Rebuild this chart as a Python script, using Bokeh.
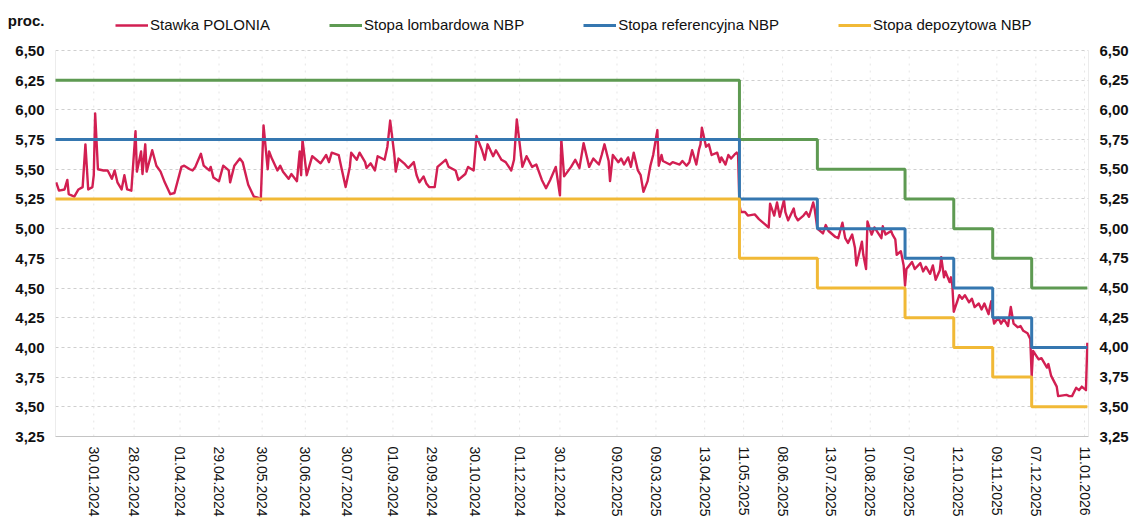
import pandas as pd
from bokeh.plotting import figure
from bokeh.models import (Range1d, FixedTicker, DatetimeTickFormatter, LinearAxis,
                          CustomJSTickFormatter, Legend, LegendItem)
from bokeh.embed import file_html
from bokeh.resources import INLINE

# ---------------- data ----------------
POLONIA_DATES = [
    "2024-01-03", "2024-01-05", "2024-01-09", "2024-01-11", "2024-01-12", "2024-01-16", "2024-01-19",
    "2024-01-22", "2024-01-24", "2024-01-26", "2024-01-29", "2024-01-30", "2024-01-31",
    "2024-02-02", "2024-02-06", "2024-02-09", "2024-02-12", "2024-02-14", "2024-02-16", "2024-02-19",
    "2024-02-21", "2024-02-23", "2024-02-26", "2024-02-29",
    "2024-03-01", "2024-03-04", "2024-03-05", "2024-03-07", "2024-03-08", "2024-03-12", "2024-03-15",
    "2024-03-18", "2024-03-21", "2024-03-25", "2024-03-28",
    "2024-04-02", "2024-04-04", "2024-04-08", "2024-04-10", "2024-04-12", "2024-04-16", "2024-04-18",
    "2024-04-22", "2024-04-23", "2024-04-25", "2024-04-29",
    "2024-05-02", "2024-05-06", "2024-05-07", "2024-05-10", "2024-05-14", "2024-05-16", "2024-05-20",
    "2024-05-24", "2024-05-27", "2024-05-29", "2024-05-31",
    "2024-06-03", "2024-06-04", "2024-06-06", "2024-06-10", "2024-06-12", "2024-06-14", "2024-06-18",
    "2024-06-20", "2024-06-24", "2024-06-26", "2024-06-27", "2024-06-28",
    "2024-07-01", "2024-07-03", "2024-07-05", "2024-07-08", "2024-07-11", "2024-07-15", "2024-07-17",
    "2024-07-19", "2024-07-24", "2024-07-26", "2024-07-29",
    "2024-08-01", "2024-08-02", "2024-08-06", "2024-08-08", "2024-08-12", "2024-08-13", "2024-08-16",
    "2024-08-19", "2024-08-21", "2024-08-26", "2024-08-28", "2024-08-30",
    "2024-09-02", "2024-09-03", "2024-09-05", "2024-09-09", "2024-09-12", "2024-09-16", "2024-09-18",
    "2024-09-20", "2024-09-23", "2024-09-25", "2024-09-27",
    "2024-10-01", "2024-10-03", "2024-10-07", "2024-10-09", "2024-10-11", "2024-10-16", "2024-10-18",
    "2024-10-23", "2024-10-25", "2024-10-29", "2024-10-31",
    "2024-11-04", "2024-11-06", "2024-11-08", "2024-11-12", "2024-11-14", "2024-11-18", "2024-11-21",
    "2024-11-25", "2024-11-27", "2024-11-29",
    "2024-12-03", "2024-12-06", "2024-12-10", "2024-12-13", "2024-12-17", "2024-12-20", "2024-12-23",
    "2024-12-27", "2024-12-30", "2024-12-31",
    "2025-01-02", "2025-01-07", "2025-01-10", "2025-01-13", "2025-01-16", "2025-01-20", "2025-01-23",
    "2025-01-27", "2025-01-29", "2025-01-31",
    "2025-02-03", "2025-02-04", "2025-02-06", "2025-02-10", "2025-02-12", "2025-02-14", "2025-02-17",
    "2025-02-19", "2025-02-21", "2025-02-24", "2025-02-26", "2025-02-28",
    "2025-03-03", "2025-03-05", "2025-03-07", "2025-03-10", "2025-03-11", "2025-03-13", "2025-03-14",
    "2025-03-19", "2025-03-21", "2025-03-26", "2025-03-28", "2025-03-31",
    "2025-04-02", "2025-04-04", "2025-04-07", "2025-04-09", "2025-04-10", "2025-04-11", "2025-04-14",
    "2025-04-16", "2025-04-18", "2025-04-22", "2025-04-24", "2025-04-25", "2025-04-28", "2025-04-30",
    "2025-05-02", "2025-05-05", "2025-05-06", "2025-05-07", "2025-05-08", "2025-05-09", "2025-05-12",
    "2025-05-14", "2025-05-19", "2025-05-22", "2025-05-26", "2025-05-29", "2025-05-30",
    "2025-06-02", "2025-06-04", "2025-06-06", "2025-06-09", "2025-06-10", "2025-06-12", "2025-06-16",
    "2025-06-17", "2025-06-19", "2025-06-23", "2025-06-25", "2025-06-27", "2025-06-30",
    "2025-07-01", "2025-07-03", "2025-07-07", "2025-07-09", "2025-07-11", "2025-07-16", "2025-07-18",
    "2025-07-21", "2025-07-23", "2025-07-25", "2025-07-28", "2025-07-30", "2025-07-31",
    "2025-08-04", "2025-08-05", "2025-08-07", "2025-08-08", "2025-08-11", "2025-08-13", "2025-08-18",
    "2025-08-19", "2025-08-21", "2025-08-25", "2025-08-26", "2025-08-28", "2025-08-29",
    "2025-09-01", "2025-09-03", "2025-09-04", "2025-09-05", "2025-09-09", "2025-09-11", "2025-09-15",
    "2025-09-17", "2025-09-19", "2025-09-22", "2025-09-24", "2025-09-26", "2025-09-29", "2025-09-30",
    "2025-10-02", "2025-10-03", "2025-10-06", "2025-10-07", "2025-10-08", "2025-10-09", "2025-10-13",
    "2025-10-15", "2025-10-17", "2025-10-20", "2025-10-22", "2025-10-24", "2025-10-27", "2025-10-29",
    "2025-10-31",
    "2025-11-03", "2025-11-04", "2025-11-05", "2025-11-06", "2025-11-07", "2025-11-10", "2025-11-12",
    "2025-11-14", "2025-11-17", "2025-11-19", "2025-11-21", "2025-11-24", "2025-11-26", "2025-11-28",
    "2025-12-01", "2025-12-03", "2025-12-04", "2025-12-05", "2025-12-09", "2025-12-11", "2025-12-15",
    "2025-12-16", "2025-12-18", "2025-12-22", "2025-12-23", "2025-12-29", "2025-12-31",
    "2026-01-02", "2026-01-05", "2026-01-07", "2026-01-09", "2026-01-12", "2026-01-13",
]
POLONIA = [
    5.39, 5.32, 5.33, 5.41, 5.29, 5.27, 5.33,
    5.35, 5.71, 5.33, 5.35, 5.45, 5.97,
    5.50, 5.49, 5.49, 5.42, 5.49, 5.39, 5.33,
    5.45, 5.33, 5.32, 5.82,
    5.48, 5.65, 5.46, 5.71, 5.48, 5.66, 5.53,
    5.48, 5.39, 5.29, 5.30,
    5.52, 5.53, 5.50, 5.49, 5.52, 5.63, 5.53,
    5.49, 5.52, 5.43, 5.40,
    5.53, 5.49, 5.39, 5.53, 5.59, 5.56, 5.37,
    5.27, 5.26, 5.24, 5.87,
    5.50, 5.65, 5.59, 5.49, 5.53, 5.48, 5.42,
    5.46, 5.40, 5.65, 5.45, 5.75,
    5.45, 5.53, 5.61, 5.58, 5.55, 5.62, 5.56,
    5.64, 5.62, 5.51, 5.35,
    5.52, 5.64, 5.58, 5.64, 5.56, 5.51, 5.55,
    5.49, 5.61, 5.58, 5.69, 5.91,
    5.62, 5.48, 5.59, 5.55, 5.51, 5.56, 5.45,
    5.39, 5.44, 5.38, 5.35,
    5.35, 5.52, 5.56, 5.58, 5.52, 5.49, 5.41,
    5.46, 5.52, 5.49, 5.78,
    5.66, 5.58, 5.71, 5.61, 5.66, 5.58, 5.56,
    5.49, 5.58, 5.92,
    5.52, 5.61, 5.52, 5.54, 5.41, 5.34, 5.41,
    5.52, 5.28, 5.75,
    5.44, 5.52, 5.58, 5.51, 5.72, 5.52, 5.59,
    5.54, 5.62, 5.71,
    5.57, 5.40, 5.62, 5.56, 5.59, 5.54, 5.60,
    5.52, 5.64, 5.49, 5.45, 5.31,
    5.40, 5.53, 5.62, 5.83, 5.53, 5.62, 5.57,
    5.54, 5.56, 5.54, 5.57, 5.53,
    5.56, 5.66, 5.54, 5.67, 5.71, 5.85, 5.69,
    5.71, 5.62, 5.64, 5.56, 5.60, 5.54, 5.62,
    5.59, 5.63, 5.64, 5.62, 5.20, 5.14, 5.14,
    5.11, 5.12, 5.08, 5.04, 5.01, 5.21,
    5.11, 5.22, 5.10, 5.24, 5.14, 5.07, 5.17,
    5.11, 5.07, 5.11, 5.14, 5.10, 5.22,
    5.17, 5.00, 4.96, 5.03, 4.98, 4.93, 4.92,
    5.05, 4.92, 4.88, 4.95, 4.84, 4.69,
    4.89, 4.78, 4.66, 5.06, 4.95, 5.01, 4.92,
    5.02, 4.95, 4.98, 4.95, 4.91, 4.78,
    4.81, 4.69, 4.52, 4.66, 4.72, 4.66, 4.71,
    4.64, 4.68, 4.62, 4.69, 4.57, 4.65, 4.76,
    4.59, 4.64, 4.55, 4.59, 4.52, 4.30, 4.44,
    4.41, 4.44, 4.38, 4.41, 4.34, 4.37, 4.32,
    4.37,
    4.28, 4.34, 4.39, 4.27, 4.20, 4.25, 4.20,
    4.24, 4.18, 4.34, 4.20, 4.17, 4.18, 4.14,
    4.12, 4.07, 3.76, 3.97, 3.90, 3.91, 3.83,
    3.86, 3.76, 3.67, 3.59, 3.60, 3.59,
    3.59, 3.66, 3.64, 3.67, 3.64, 4.04,
]

RATE_DATES = ["2024-01-02", "2025-05-08", "2025-07-03", "2025-09-04",
              "2025-10-09", "2025-11-06", "2025-12-04", "2026-01-13"]
LOMBARD = [6.25, 5.75, 5.50, 5.25, 5.00, 4.75, 4.50, 4.50]
REFERENCE = [5.75, 5.25, 5.00, 4.75, 4.50, 4.25, 4.00, 4.00]
DEPOSIT = [5.25, 4.75, 4.50, 4.25, 4.00, 3.75, 3.50, 3.50]

X_TICK_DATES = ["2024-01-30", "2024-02-28", "2024-04-01", "2024-04-29", "2024-05-30", "2024-06-30",
                "2024-07-30", "2024-09-01", "2024-09-29", "2024-10-30", "2024-12-01", "2024-12-30",
                "2025-02-09", "2025-03-09", "2025-04-13", "2025-05-11", "2025-06-08", "2025-07-13",
                "2025-08-10", "2025-09-07", "2025-10-12", "2025-11-09", "2025-12-07", "2026-01-11"]
Y_TICKS = [3.25, 3.50, 3.75, 4.00, 4.25, 4.50, 4.75, 5.00, 5.25, 5.50, 5.75, 6.00, 6.25, 6.50]

SERIES_NAMES = ["Stawka POLONIA", "Stopa lombardowa NBP", "Stopa referencyjna NBP", "Stopa depozytowa NBP"]
UNIT_LABEL = "proc."

# ---------------- style ----------------
RED = "#d21f52"
GREEN = "#5e9a52"
BLUE = "#3577b0"
YELLOW = "#f1b936"
FONT = "Liberation Sans"
TXT = "#111111"

Y_TOP = 6.921          # the frame reaches the canvas top; the value band ends at 6.50
UNIT_POS = 6.753       # height of the unit caption on the left axis

pol_x = pd.to_datetime(POLONIA_DATES)
rate_x = pd.to_datetime(RATE_DATES)
tick_x = pd.to_datetime(X_TICK_DATES)
xticks_ms = [pd.Timestamp(d).value / 1e6 for d in X_TICK_DATES]
y_lo, y_hi = Y_TICKS[0], Y_TICKS[-1]

p = figure(width=1131, height=520, x_axis_type="datetime",
           x_range=Range1d(pd.Timestamp("2024-01-02 12:00"), pd.Timestamp("2026-01-13 20:00")),
           y_range=Range1d(y_lo, Y_TOP),
           output_backend="svg", toolbar_location=None,
           min_border_left=55, min_border_right=41, min_border_top=0, min_border_bottom=84)
p.outline_line_color = None
p.background_fill_color = "white"
p.border_fill_color = "white"
p.xgrid.visible = False

# faint vertical guides at the date ticks (only within the value band)
p.segment(x0=tick_x, x1=tick_x, y0=[y_lo] * len(tick_x), y1=[y_hi] * len(tick_x),
          line_color="#e6e6e6", line_width=1, line_dash="2 5")
# faint frame sides
p.segment(x0=[p.x_range.start, p.x_range.end], x1=[p.x_range.start, p.x_range.end],
          y0=[y_lo, y_lo], y1=[y_hi, y_hi], line_color="#d9d9d9", line_width=1)

r_pol = p.line(pol_x, POLONIA, line_color=RED, line_width=2.4, line_join="round")
r_lom = p.step(rate_x, LOMBARD, mode="after", line_color=GREEN, line_width=3)
r_ref = p.step(rate_x, REFERENCE, mode="after", line_color=BLUE, line_width=3)
r_dep = p.step(rate_x, DEPOSIT, mode="after", line_color=YELLOW, line_width=3)

# x axis
xax = p.xaxis[0]
xax.ticker = FixedTicker(ticks=xticks_ms)
fmt = "%d.%m.%Y"
xax.formatter = DatetimeTickFormatter(microseconds=fmt, milliseconds=fmt, seconds=fmt, minsec=fmt,
                                      minutes=fmt, hourmin=fmt, hours=fmt, days=fmt, months=fmt, years=fmt)
xax.major_label_orientation = "vertical"
xax.major_label_text_font = FONT
xax.major_label_text_font_size = "14px"
xax.major_label_text_color = TXT
xax.major_tick_line_color = None
xax.minor_tick_line_color = None
xax.major_label_standoff = 4
xax.axis_line_color = "#c4c4c4"

# y axes (the left one also carries the unit caption above the value band)
yfmt = CustomJSTickFormatter(args=dict(top=y_hi, unit=UNIT_LABEL),
                             code="if (tick > top + 0.01) { return unit; } "
                                  "return tick.toFixed(2).replace('.', ',');")
yax = p.yaxis[0]
yax.ticker = FixedTicker(ticks=Y_TICKS + [UNIT_POS])
yax.formatter = yfmt
right = LinearAxis(ticker=FixedTicker(ticks=Y_TICKS), formatter=yfmt)
right.bounds = (y_lo, y_hi)
p.add_layout(right, "right")
for ax in (yax, right):
    ax.major_label_text_font = FONT
    ax.major_label_text_font_size = "15px"
    ax.major_label_text_font_style = "bold"
    ax.major_label_text_color = TXT
    ax.major_tick_line_color = None
    ax.minor_tick_line_color = None
    ax.axis_line_color = None
    ax.major_label_standoff = 5

# grids
p.ygrid.ticker = FixedTicker(ticks=Y_TICKS)
p.ygrid.grid_line_color = "#cfcfcf"
p.ygrid.grid_line_dash = "3 3"

# legend inside the (extended) frame, above the value band
leg = Legend(items=[LegendItem(label=n, renderers=[r]) for n, r in
                    zip(SERIES_NAMES, [r_pol, r_lom, r_ref, r_dep])],
             location=(60, 403), orientation="horizontal", padding=0, margin=0, spacing=59,
             glyph_width=33, glyph_height=16, label_height=16, label_standoff=2,
             label_text_font=FONT, label_text_font_size="15px", label_text_color=TXT,
             border_line_color=None, background_fill_alpha=0)
p.add_layout(leg)

open("out.html", "w").write(file_html(p, INLINE))
